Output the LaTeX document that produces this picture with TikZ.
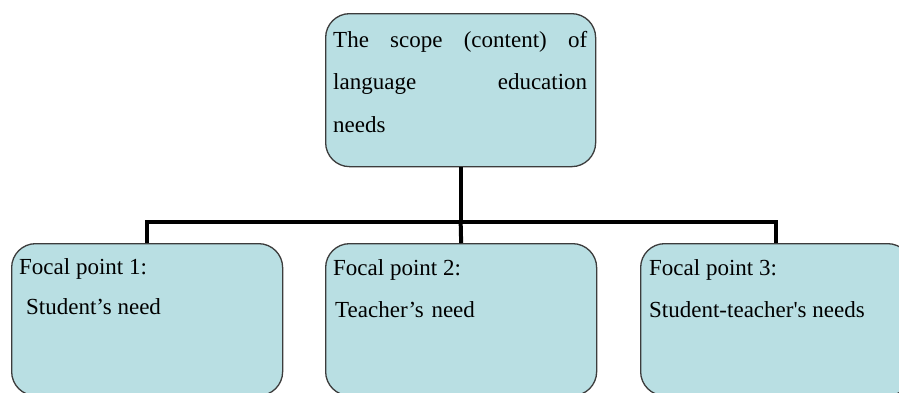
\documentclass[tikz,border=0pt]{standalone}
\usepackage{fontspec}
\setmainfont{Liberation Serif}
\definecolor{boxfill}{RGB}{185,223,227}
\definecolor{boxline}{RGB}{60,60,60}
\tikzset{
  x=1pt, y=-1pt,
  boxstyle/.style={draw=boxline, line width=1.3pt, fill=boxfill, rounded corners=24pt,
    rectangle, inner sep=0pt, anchor=north west},
  txt/.style={anchor=base west, inner sep=0pt, font=\fontsize{23}{40}\selectfont},
  conn/.style={draw=black, line width=4pt}
}
\begin{document}
\begin{tikzpicture}
\clip (0,0) rectangle (899,392);
\fill[white] (0,0) rectangle (899,392);
% boxes
\node[boxstyle, minimum width=270pt, minimum height=153pt] (top) at (325,13) {};
\node[boxstyle, minimum width=271pt, minimum height=152pt] (b1) at (11,243) {};
\node[boxstyle, minimum width=271pt, minimum height=152pt] (b2) at (325,243) {};
\node[boxstyle, minimum width=271pt, minimum height=152pt] (b3) at (640,243) {};
% connectors
\coordinate (j) at (top.south |- 0,222);
\draw[conn] (top.south) -- (j);
\draw[conn] (b1.north) |- (j) -| (b3.north);
\draw[conn] (j) -- (b2.north);
% texts
\node[txt] (t1) at (333,47) {\hbox to 254pt{The\hfill scope\hfill (content)\hfill of}};
\node[txt] (t2) at (333,89) {\hbox to 254pt{language\hfill education}};
\node[txt] (t3) at (333,132) {needs};
\node[txt] (f1) at (19,274) {Focal point 1:};
\node[txt] (s1) at (26,314) {Student’s need};
\node[txt] (f2) at (333,275) {Focal point 2:};
\node[txt] (s2) at (335,317) {Teacher’s\,\,need};
\node[txt] (f3) at (649,275) {Focal point 3:};
\node[txt] (s3) at (649,317) {Student-teacher\textquotesingle s needs};
\end{tikzpicture}
\end{document}
